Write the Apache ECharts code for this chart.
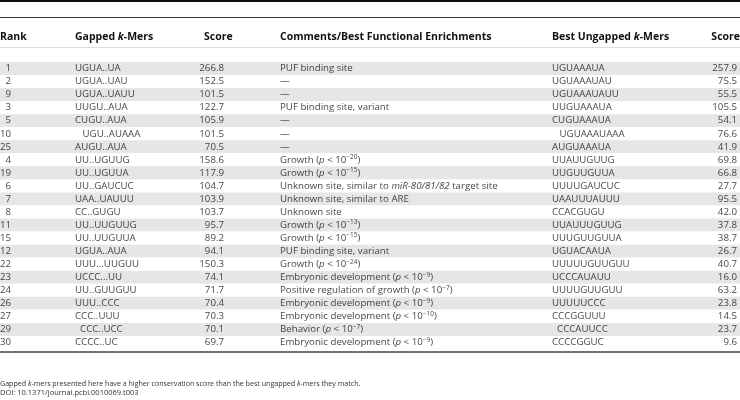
<!DOCTYPE html>
<html>
<head>
<meta charset="utf-8">
<script src="https://cdn.jsdelivr.net/npm/echarts@6/dist/echarts.min.js"></script>
<style>
  html, body { margin: 0; padding: 0; background: #fff; }
  #chart { width: 740px; height: 400px; }
</style>
</head>
<body>
<div id="chart"></div>
<script>
// 表格数据（按图中行序）
const ranks = ["1", "2", "9", "3", "5", "10", "25", "4", "19", "6", "7", "8", "11", "15", "12", "22", "23", "24", "26", "27", "29", "30"];
const gappedKmers = ["UGUA..UA", "UGUA..UAU", "UGUA..UAUU", "UUGU..AUA", "CUGU..AUA", "   UGU..AUAAA", "AUGU..AUA", "UU..UGUUG", "UU..UGUUA", "UU..GAUCUC", "UAA..UAUUU", "CC..GUGU", "UU..UUGUUG", "UU..UUGUUA", "UGUA..AUA", "UUU...UUGUU", "UCCC...UU", "UU..GUUGUU", "UUU..CCC", "CCC..UUU", "  CCC..UCC", "CCCC..UC"];
const gappedScores = [266.8, 152.5, 101.5, 122.7, 105.9, 101.5, 70.5, 158.6, 117.9, 104.7, 103.9, 103.7, 95.7, 89.2, 94.1, 150.3, 74.1, 71.7, 70.4, 70.3, 70.1, 69.7];
const comments = [
  "PUF binding site", "—", "—", "PUF binding site, variant", "—", "—", "—",
  "Growth (p < 10^−20)", "Growth (p < 10^−15)",
  "Unknown site, similar to miR-80/81/82 target site",
  "Unknown site, similar to ARE", "Unknown site",
  "Growth (p < 10^−13)", "Growth (p < 10^−15)", "PUF binding site, variant",
  "Growth (p < 10^−24)", "Embryonic development (p < 10^−9)",
  "Positive regulation of growth (p < 10^−7)", "Embryonic development (p < 10^−9)",
  "Embryonic development (p < 10^−10)", "Behavior (p < 10^−7)",
  "Embryonic development (p < 10^−9)"
];
const ungappedKmers = ["UGUAAAUA", "UGUAAAUAU", "UGUAAAUAUU", "UUGUAAAUA", "CUGUAAAUA", "   UGUAAAUAAA", "AUGUAAAUA", "UUAUUGUUG", "UUGUUGUUA", "UUUUGAUCUC", "UAAUUUAUUU", "CCACGUGU", "UUAUUUGUUG", "UUUGUUGUUA", "UGUACAAUA", "UUUUUGUUGUU", "UCCCAUAUU", "UUUUGUUGUU", "UUUUUCCC", "CCCGGUUU", "  CCCAUUCC", "CCCCGGUC"];
const ungappedScores = [257.9, 75.5, 55.5, 105.5, 54.1, 76.6, 41.9, 69.8, 66.8, 27.7, 95.5, 42.0, 37.8, 38.7, 26.7, 40.7, 16.0, 63.2, 23.8, 14.5, 23.7, 9.6];

const headers = ["Rank", "Gapped {i|k}-Mers", "Score", "Comments/Best Functional Enrichments", "Best Ungapped {i|k}-Mers", "Score"];
const footnote = "Gapped {i|k}-mers presented here have a higher conservation score than the best ungapped {i|k}-mers they match.";
const doi = "DOI: 10.1371/journal.pcbi.0010069.t003";

const FONT = "'Open Sans', 'Noto Sans', sans-serif";
const TEXT_COLOR = "#111";
const BODY_SIZE = 9.7;

// 列位置与对齐方式
const columns = [
  { x: 11, align: "right" },
  { x: 75, align: "left" },
  { x: 224, align: "right" },
  { x: 280, align: "left" },
  { x: 552, align: "left" },
  { x: 737, align: "right" },
];
const headerX = [0, 75, 204, 280, 552, 740];
const headerAlign = ["left", "left", "left", "left", "left", "right"];

const richStyles = {
  i: { fontFamily: FONT, fontSize: BODY_SIZE, fontStyle: "italic", color: TEXT_COLOR },
  sup: { fontFamily: FONT, fontSize: 6.5, color: TEXT_COLOR, verticalAlign: "top", lineHeight: 5 },
};

// 把 p 值、上标、斜体转换成富文本
const toRich = (s) =>
  s
    .replace("miR-80/81/82", "{i|miR-80/81/82}")
    .replace("(p <", "({i|p} <")
    .replace(/\^(−\d+)/, "{sup|$1}");

const textColumn = (col, values, fmt) => ({
  type: "scatter",
  silent: true,
  symbolSize: 1,
  itemStyle: { color: "rgba(0,0,0,0)" },
  data: values.map((v, i) => ({ value: [col.x, i], text: String(v) })),
  label: {
    show: true,
    position: "inside",
    align: col.align,
    verticalAlign: "middle",
    fontFamily: FONT,
    fontSize: BODY_SIZE,
    lineHeight: 12,
    color: TEXT_COLOR,
    rich: richStyles,
    formatter: (p) => fmt(p.data.text),
  },
});

const chart = echarts.init(document.getElementById("chart"));

const graphics = [
  { type: "line", shape: { x1: 0, y1: 1, x2: 740, y2: 1 }, style: { stroke: "#111", lineWidth: 2 } },
  { type: "line", shape: { x1: 0, y1: 17.5, x2: 740, y2: 17.5 }, style: { stroke: "#333", lineWidth: 1 } },
  { type: "line", shape: { x1: 0, y1: 47.5, x2: 740, y2: 47.5 }, style: { stroke: "#ddd", lineWidth: 1 } },
  { type: "line", shape: { x1: 0, y1: 352, x2: 740, y2: 352 }, style: { stroke: "#444", lineWidth: 1.5 } },
];

headers.forEach((h, k) => {
  graphics.push({
    type: "text",
    x: headerX[k],
    y: 37,
    style: {
      text: h,
      fontFamily: FONT,
      fontSize: 10.5,
      fontWeight: "bold",
      fill: TEXT_COLOR,
      align: headerAlign[k],
      verticalAlign: "middle",
      rich: { i: { fontFamily: FONT, fontSize: 10.5, fontWeight: "bold", fontStyle: "italic", fill: TEXT_COLOR } },
    },
  });
});

graphics.push({
  type: "text",
  x: 0,
  y: 384,
  style: {
    text: footnote,
    fontFamily: FONT,
    fontSize: 7.1,
    fill: "#333",
    verticalAlign: "middle",
    rich: { i: { fontFamily: FONT, fontSize: 7.1, fontStyle: "italic", fill: "#333" } },
  },
});
graphics.push({
  type: "text",
  x: 0,
  y: 392.5,
  style: { text: doi, fontFamily: FONT, fontSize: 7.5, fill: "#333", verticalAlign: "middle" },
});

const option = {
  animation: false,
  grid: { left: 0, right: 0, top: 62, height: 287, containLabel: false },
  xAxis: { type: "value", min: 0, max: 740, show: false },
  yAxis: {
    type: "category",
    inverse: true,
    data: ranks,
    axisLine: { show: false },
    axisTick: { show: false, interval: 0 },
    axisLabel: { show: false, interval: 0 },
    splitLine: { show: false },
    splitArea: { show: true, interval: 0, areaStyle: { color: ["#e6e6e6", "#ffffff"] } },
  },
  graphic: graphics,
  series: [
    textColumn(columns[0], ranks, (v) => v),
    textColumn(columns[1], gappedKmers, (v) => v),
    textColumn(columns[2], gappedScores, (v) => Number(v).toFixed(1)),
    textColumn(columns[3], comments, toRich),
    textColumn(columns[4], ungappedKmers, (v) => v),
    textColumn(columns[5], ungappedScores, (v) => Number(v).toFixed(1)),
  ],
};

chart.setOption(option);
</script>
</body>
</html>
